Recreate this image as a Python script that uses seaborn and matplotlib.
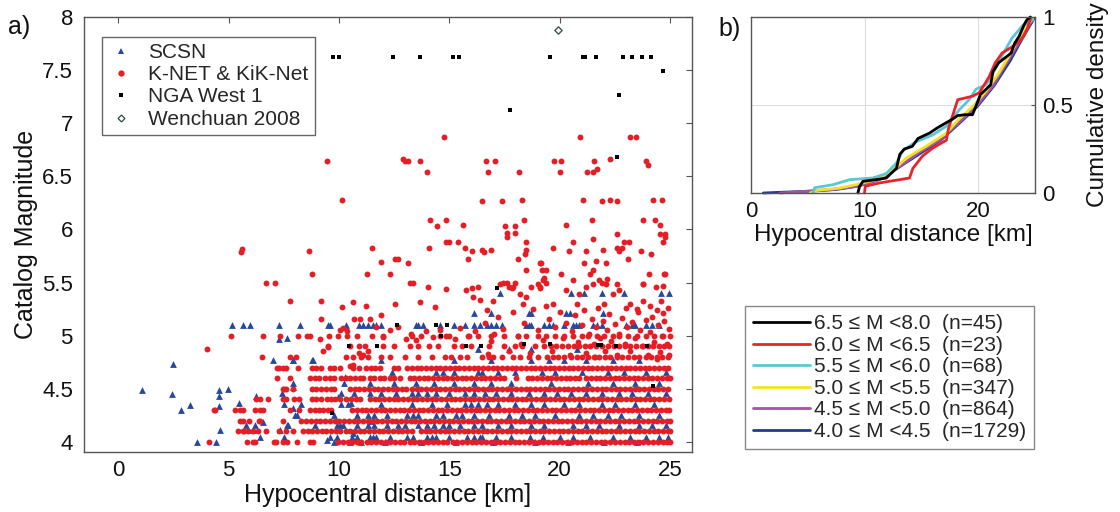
import matplotlib
matplotlib.use("Agg")
import matplotlib.pyplot as plt
import seaborn as sns
import pandas as pd
from matplotlib.lines import Line2D

# ---------------- Panel a data ----------------
# K-NET & KiK-Net: magnitude rows (0.1 steps) -> hypocentral distances [km]
knet_row_mags = [4.0, 4.1, 4.2, 4.3, 4.4, 4.5, 4.6, 4.7, 4.8, 4.9, 5.0]
knet_40 = [4.10, 5.85, 6.12, 6.18, 7.05, 7.15, 7.45, 7.63, 8.12, 8.69, 8.84, 9.97, 10.18, 10.4, 10.61, 10.83, 11.02,
           11.26, 11.47, 11.66, 11.9, 12.12, 12.31, 12.55, 12.77, 12.96, 13.2, 13.41, 13.62, 13.86, 14.05, 14.27, 14.5,
           14.71, 14.92, 15.16, 15.35, 15.58, 15.8, 16.01, 16.22, 16.46, 16.66, 16.87, 17.1, 17.31, 17.52, 17.76,
           17.96, 18.18, 18.41, 18.6, 18.83, 19.05, 19.26, 19.47, 19.7, 19.9, 20.12, 20.35, 20.55, 20.78, 21.0, 21.21,
           21.42, 21.66, 21.86, 22.07, 22.3, 22.51, 22.72, 22.95, 23.16, 23.37, 23.6, 23.8, 24.02, 24.25, 24.45, 24.67,
           24.88, 25.0]
knet_41 = [5.44, 5.67, 5.72, 5.9, 6.13, 6.35, 6.7, 7.3, 7.6, 7.92, 8.37, 8.58, 8.8, 9.0, 9.22, 9.43, 9.65, 9.86, 10.07,
           10.3, 10.5, 10.72, 10.94, 11.15, 11.37, 11.58, 11.8, 12.01, 12.23, 12.45, 12.66, 12.87, 13.1, 13.3, 13.72,
           13.93, 14.15, 14.36, 14.58, 14.8, 15.01, 15.22, 15.44, 15.66, 15.87, 16.08, 16.3, 16.52, 16.73, 16.95,
           17.16, 17.38, 17.6, 17.81, 18.02, 18.24, 18.46, 18.67, 18.88, 19.1, 19.31, 19.53, 19.75, 19.96, 20.17,
           20.39, 20.6, 20.82, 21.03, 21.25, 21.46, 21.68, 21.9, 22.11, 22.32, 22.54, 22.76, 22.97, 23.18, 23.4,
           23.62, 23.83, 24.04, 24.26, 24.48, 24.69, 24.9, 25.0]
knet_42 = [5.5, 5.67, 5.92, 6.37, 6.44, 7.48, 8.3, 8.52, 8.73, 8.95, 9.16, 9.38, 9.6, 9.81, 10.02, 10.24, 10.46, 10.67,
           10.88, 11.1, 11.32, 11.53, 11.74, 11.96, 12.18, 12.39, 12.6, 12.82, 13.04, 13.25, 13.46, 13.68, 13.9, 14.11,
           14.32, 14.54, 14.76, 14.97, 15.18, 15.4, 15.62, 15.83, 16.04, 16.26, 16.48, 16.69, 16.9, 17.12, 17.34,
           17.55, 17.76, 17.98, 18.2, 18.41, 18.62, 18.84, 19.06, 19.27, 19.48, 19.7, 19.92, 20.13, 20.34, 20.56,
           20.78, 20.99, 21.2, 21.42, 21.64, 21.85, 22.06, 22.28, 22.5, 22.71, 22.92, 23.14, 23.36, 23.57, 23.78,
           24.0, 24.22, 24.43, 24.64, 24.86, 25.0]
knet_43 = [4.36, 4.4, 5.3, 5.52, 5.66, 6.2, 6.44, 6.55, 7.8, 8.2, 8.7, 8.9, 9.1, 9.3, 9.5, 9.62, 10.6, 10.82, 11.03,
           11.25, 11.46, 11.68, 11.9, 12.11, 12.32, 12.54, 12.76, 12.97, 13.18, 13.4, 13.62, 13.83, 14.04, 14.26,
           14.48, 14.69, 14.9, 15.12, 15.34, 15.55, 15.76, 15.98, 16.2, 16.41, 16.62, 16.84, 17.06, 17.27, 17.48,
           17.7, 17.92, 18.13, 18.34, 18.56, 18.78, 18.99, 19.2, 19.42, 19.64, 19.85, 20.06, 20.28, 20.5, 20.71,
           20.92, 21.14, 21.36, 21.57, 21.78, 22.0, 22.22, 22.43, 22.64, 22.86, 23.08, 23.29, 23.5, 23.72, 23.94,
           24.15, 24.36, 24.58, 24.8, 24.98]
knet_44 = [6.24, 6.43, 6.77, 7.45, 7.62, 7.95, 8.2, 8.76, 8.95, 9.2, 9.45, 9.62, 9.82, 10.03, 10.3, 10.55, 10.76,
           10.97, 11.4, 11.62, 11.83, 12.04, 12.26, 12.48, 12.69, 12.9, 13.12, 13.34, 13.55, 13.76, 13.98, 14.2,
           14.41, 14.62, 14.84, 15.06, 15.27, 15.48, 15.7, 15.92, 16.13, 16.34, 16.56, 16.78, 16.99, 17.2, 17.42,
           17.64, 17.85, 18.06, 18.28, 18.5, 18.71, 18.92, 19.14, 19.36, 19.57, 19.78, 20.0, 20.22, 20.43, 20.64,
           20.86, 21.08, 21.29, 21.5, 21.72, 21.94, 22.15, 22.36, 22.58, 22.8, 23.01, 23.22, 23.44, 23.66, 23.87,
           24.08, 24.3, 24.52, 24.73, 24.94]
knet_45 = [7.45, 7.52, 7.62, 7.9, 8.76, 8.97, 9.2, 9.41, 9.62, 9.8, 10.5, 10.71, 10.92, 11.14, 11.36, 11.57, 11.78,
           12.0, 12.22, 12.43, 12.64, 12.86, 13.06, 13.3, 13.52, 13.74, 13.95, 14.16, 14.38, 14.6, 14.81, 15.02,
           15.24, 15.46, 15.67, 15.88, 16.1, 16.32, 16.53, 16.74, 16.96, 17.18, 17.39, 17.6, 17.82, 18.04, 18.25,
           18.46, 18.68, 18.9, 19.11, 19.32, 19.54, 19.76, 19.97, 20.18, 20.4, 20.62, 20.83, 21.04, 21.26, 21.48,
           21.69, 21.9, 22.12, 22.34, 22.55, 22.76, 22.98, 23.2, 23.41, 23.62, 23.84, 24.06, 24.27, 24.48, 24.7,
           24.92]
knet_46 = [7.21, 7.8, 8.7, 8.9, 9.1, 9.35, 9.6, 9.8, 10.1, 10.3, 10.5, 10.75, 10.95, 11.1, 11.4, 11.6, 11.85, 12.05,
           12.3, 12.5, 12.76, 13.2, 13.42, 13.63, 13.84, 14.06, 14.28, 14.49, 14.7, 14.92, 15.14, 15.35, 15.56,
           15.78, 16.0, 16.21, 16.42, 16.64, 16.86, 17.07, 17.28, 17.5, 18.02, 18.55, 18.76, 18.98, 19.2, 19.41,
           19.62, 19.84, 20.06, 20.27, 20.48, 20.7, 20.9, 21.2, 21.42, 21.63, 21.84, 22.06, 22.28, 22.49, 22.7,
           22.92, 23.14, 23.35, 23.56, 23.78, 24.0, 24.21, 24.42, 24.64, 24.86, 25.0]
knet_47 = [7.21, 7.3, 7.45, 7.6, 8.16, 8.76, 8.95, 9.2, 9.6, 9.8, 10.05, 10.65, 10.9, 11.25, 11.45, 11.65, 11.86,
           12.5, 12.7, 13.1, 13.32, 13.53, 13.74, 13.96, 14.18, 14.39, 14.6, 14.82, 15.04, 15.25, 15.46, 15.68, 15.9,
           16.11, 16.32, 16.54, 16.76, 16.97, 17.18, 17.4, 17.62, 17.83, 18.04, 18.26, 18.48, 18.69, 18.9, 19.12,
           19.34, 19.55, 19.76, 19.98, 20.2, 20.41, 20.62, 20.84, 21.06, 21.27, 21.48, 21.7, 21.92, 22.13, 22.34,
           22.56, 22.78, 22.99, 23.2, 23.42, 23.64, 23.85, 24.06, 24.28, 24.5, 24.71, 24.92]
knet_48 = [6.5, 7.8, 8.05, 10.34, 10.65, 11.0, 11.3, 11.9, 12.3, 13.0, 13.6, 14.2, 14.8, 15.1, 15.5, 15.8, 16.5, 16.8,
           17.0, 17.4, 17.9, 18.2, 18.6, 19.0, 19.45, 19.7, 19.95, 20.2, 20.5, 20.8, 21.0, 21.3, 21.55, 21.8, 22.05,
           22.3, 22.6, 22.85, 23.1, 23.35, 23.6, 23.9, 24.15, 24.4, 24.65, 24.9]
knet_49 = [9.52, 10.5, 10.9, 11.2, 12.0, 12.5, 13.2, 13.6, 14.1, 14.5, 15.2, 15.6, 16.0, 16.8, 17.5, 18.0, 18.3, 18.9,
           19.3, 19.6, 19.85, 20.1, 20.4, 20.65, 20.9, 21.15, 21.4, 21.65, 21.9, 22.2, 22.45, 22.7, 22.95, 23.2,
           23.45, 23.75, 24.0, 24.25, 24.5, 24.75, 24.98]
knet_50 = [5.11, 6.56, 7.34, 8.16, 8.54, 8.69, 9.55, 9.98, 10.37, 10.8, 11.5, 12.0, 13.3, 13.7, 14.6, 15.0, 15.9, 16.3,
           16.9, 17.5, 18.1, 18.5, 19.0, 19.4, 19.8, 20.2, 20.6, 21.0, 21.3, 21.7, 22.0, 22.4, 22.7, 23.1, 23.5, 23.9,
           24.3, 24.7, 25.0]
# K-NET & KiK-Net scattered points (distance km, magnitude)
knet_scatter_pts = [
    (10.35, 5.04), (10.7, 5.16), (10.95, 5.16), (11.4, 5.16), (11.7, 5.08), (12.0, 4.99), (12.3, 5.05), (12.68, 5.08),
    (13.06, 4.97), (13.28, 5.02), (13.5, 4.96), (13.96, 5.04), (14.26, 4.99), (14.57, 5.05), (14.87, 5.0),
    (15.25, 4.97), (15.48, 5.07), (15.85, 5.0), (16.15, 5.04), (10.65, 5.32), (11.25, 5.28), (11.93, 5.19),
    (12.53, 5.30), (13.66, 5.32), (14.04, 5.46), (14.34, 5.27), (14.87, 5.44), (15.78, 5.43), (16.07, 5.36),
    (16.4, 5.34), (16.7, 5.24), (17.0, 5.33), (17.3, 5.49), (17.6, 5.5), (17.9, 5.46), (18.2, 5.39), (18.35, 5.30),
    (18.5, 5.36), (19.1, 5.68), (19.23, 5.52), (19.1, 5.46), (19.7, 5.30), (20.3, 5.43), (20.6, 5.52), (20.9, 5.39),
    (21.2, 5.46), (21.5, 5.49), (21.8, 5.52), (22.1, 5.49), (22.4, 5.39), (22.7, 5.43), (23.2, 5.30), (23.5, 5.25),
    (23.8, 5.33), (24.1, 5.28), (24.4, 5.24), (24.7, 5.21), (23.8, 5.49), (24.75, 5.58),
    (16.6, 5.12), (16.9, 4.95), (17.2, 5.18), (17.45, 5.06), (17.7, 4.86), (17.9, 5.22), (18.1, 5.0), (18.4, 5.12),
    (18.65, 4.84), (18.8, 5.25), (19.0, 5.05), (19.25, 4.96), (19.5, 5.16), (19.65, 4.86), (19.8, 5.08),
    (20.0, 5.22), (20.15, 4.98), (20.3, 5.12), (20.45, 4.82), (20.55, 5.04), (20.7, 5.19), (20.85, 4.94),
    (21.0, 5.1), (21.1, 5.24), (21.2, 4.84), (21.35, 5.02), (21.45, 5.16), (21.55, 4.92), (21.65, 5.08),
    (21.75, 5.26), (21.85, 4.98), (21.95, 5.14), (22.05, 4.86), (22.15, 5.05), (22.25, 5.2), (22.35, 4.95),
    (22.5, 5.11), (22.6, 4.82), (22.7, 5.02), (22.85, 5.17), (22.95, 4.92), (23.05, 5.08), (23.2, 4.86),
    (23.3, 5.13), (23.4, 4.98), (23.55, 5.22), (23.65, 5.05), (23.8, 4.9), (23.9, 5.15), (24.0, 4.82),
    (24.1, 5.03), (24.2, 5.18), (24.3, 4.94), (24.45, 5.1), (24.55, 4.85), (24.65, 5.0), (24.75, 5.14),
    (24.85, 4.92), (24.95, 5.06), (24.9, 5.26), (16.75, 4.83), (17.05, 5.02), (18.25, 4.92), (19.4, 5.28),
    (20.8, 5.3), (22.0, 5.3), (24.6, 5.33), (23.0, 5.26), (21.6, 4.8), (24.4, 4.78), (24.95, 4.82),
    (5.62, 5.82), (5.58, 5.79), (4.03, 4.87), (7.09, 5.5), (6.68, 5.5), (7.8, 5.33), (9.17, 5.33), (9.21, 5.16),
    (10.15, 5.27), (10.05, 5.05), (10.2, 5.07), (9.14, 4.97), (9.52, 4.89), (9.29, 4.86), (10.9, 4.84),
    (11.1, 4.82), (11.3, 4.86), (10.65, 4.72), (10.5, 4.71),
    (9.44, 6.64), (10.15, 6.28), (12.9, 6.66), (13.0, 6.64), (13.15, 6.64), (13.68, 6.64), (14.0, 6.54),
    (14.78, 6.87), (16.68, 6.64), (16.75, 6.54), (16.5, 6.27), (8.66, 5.80), (8.78, 5.58), (11.52, 5.83),
    (11.27, 5.58), (11.92, 5.69), (12.52, 5.72), (12.70, 5.72), (13.15, 5.68), (12.3, 5.58), (13.2, 5.50),
    (13.36, 5.50), (14.07, 5.83), (14.15, 6.09), (14.46, 6.03), (14.85, 6.09), (14.84, 5.88), (15.0, 5.88),
    (15.38, 5.88), (15.63, 6.04), (15.72, 5.83), (16.03, 5.80), (16.49, 5.81), (16.56, 5.79), (15.84, 5.72),
    (16.03, 5.45), (16.29, 5.46), (20.92, 6.87), (23.2, 6.87), (23.45, 6.87), (17.06, 6.64), (18.17, 6.54),
    (19.74, 6.64), (20.07, 6.64), (20.0, 6.54), (21.57, 6.64), (21.23, 6.54), (21.5, 6.54), (21.7, 6.57),
    (22.28, 6.66), (23.92, 6.64), (23.99, 6.61), (17.39, 6.27), (18.31, 6.28), (21.05, 6.28), (21.9, 6.27),
    (22.3, 6.28), (22.62, 6.27), (24.24, 6.28), (24.63, 6.28), (18.37, 6.09), (17.53, 6.03), (18.0, 6.03),
    (17.6, 5.97), (17.6, 5.93), (18.0, 5.97), (20.27, 6.04), (21.45, 6.09), (23.78, 6.09), (24.31, 6.09),
    (24.57, 6.04), (24.57, 5.96), (24.77, 5.96), (24.77, 5.93), (24.7, 5.88), (22.62, 5.96), (21.5, 5.91),
    (20.6, 5.88), (18.5, 5.88), (22.94, 5.88), (23.15, 5.88), (16.88, 5.81), (18.5, 5.81), (18.44, 5.77),
    (19.68, 5.83), (20.41, 5.80), (21.19, 5.80), (21.98, 5.81), (22.62, 5.83), (22.7, 5.80), (22.84, 5.83),
    (23.67, 5.80), (24.12, 5.77), (18.11, 5.72), (21.64, 5.70), (23.08, 5.72), (18.5, 5.62), (19.16, 5.68),
    (19.2, 5.62), (19.4, 5.62), (21.12, 5.68), (21.52, 5.62), (22.1, 5.68), (20.06, 5.58), (21.37, 5.58),
    (24.06, 5.58), (24.76, 5.58), (19.28, 5.54), (19.39, 5.50), (17.45, 5.50), (17.98, 5.50), (19.0, 5.49),
    (22.17, 5.53), (21.92, 5.50), (22.62, 5.49), (23.78, 5.49), (24.37, 5.46), (24.7, 5.47), (17.72, 5.46),
    (17.84, 5.45), (18.71, 5.46), (19.1, 5.45)]

# SCSN: magnitude levels -> distances, plus scattered points
scsn_level_mags = [4.0, 4.05, 4.16, 4.25, 4.36, 4.46, 4.55, 4.66, 4.77, 4.87, 5.10, 5.21, 5.40]
scsn_400 = [9.8, 10.5, 11.0, 12.1, 13.7, 15.3, 17.0, 18.9, 20.4, 22.0, 23.5]
scsn_405 = [7.5, 9.6, 9.9, 10.6, 10.8, 11.4, 11.55, 11.7, 12.3, 13.1, 13.35, 14.0, 14.2, 14.4, 15.0, 15.8, 16.1,
            16.4, 16.5, 17.1, 17.8, 18.65, 19.25, 20.0, 20.6, 21.36, 22.4, 23.17, 23.9, 24.5, 24.9]
scsn_416 = [7.7, 8.9, 9.9, 10.05, 10.2, 10.8, 11.3, 11.6, 12.2, 12.7, 13.0, 13.6, 14.0, 14.3, 14.7, 15.0, 15.5, 16.1,
            16.5, 17.2, 17.8, 18.7, 19.3, 20.6, 21.2, 21.8, 22.7, 23.6, 24.2, 24.8]
scsn_425 = [8.0, 9.8, 10.8, 11.3, 11.6, 12.2, 13.1, 13.35, 13.6, 14.4, 14.7, 15.3, 15.6, 16.1, 16.8, 17.7, 18.3,
            18.9, 19.8, 20.9, 21.5, 22.2, 22.8, 23.6, 24.5]
scsn_436 = [7.5, 8.3, 10.1, 10.4, 11.9, 13.3, 14.2, 14.9, 15.7, 16.0, 16.3, 16.7, 17.2, 18.0, 18.7, 19.3, 20.2, 20.9,
            21.9, 22.5, 23.4, 24.3]
scsn_446 = [7.4, 10.1, 10.7, 11.4, 11.9, 12.6, 13.3, 13.6, 14.0, 14.4, 15.0, 15.7, 16.1, 16.6, 17.1, 17.8, 18.6,
            19.3, 19.9, 20.5, 21.2, 21.9, 22.7, 23.3, 24.0, 24.8]
scsn_455 = [7.9, 10.25, 11.4, 12.5, 13.5, 14.3, 15.2, 16.1, 16.9, 17.8, 19.6, 21.3, 22.4, 23.4, 24.5]
scsn_466 = [12.4, 14.4, 14.7, 15.2, 16.3, 16.5, 17.2, 18.0, 19.2, 19.8, 21.0, 22.2, 22.9, 23.9, 24.8]
scsn_477 = [7.9, 8.8, 11.9, 15.2, 16.9, 18.7, 19.5, 20.2, 21.2, 22.4, 23.6]
scsn_487 = [16.3, 17.7, 18.7, 20.8]
scsn_510 = [5.17, 5.67, 5.97, 7.3, 8.24, 9.5, 9.6, 10.3, 10.9, 11.1, 11.3, 11.55, 11.7, 11.93, 13.5, 13.6, 13.8,
            14.57, 15.2, 15.7, 16.1, 16.4, 16.7, 16.9, 17.1, 17.4, 18.5, 18.6, 18.7, 19.3, 19.5, 19.7, 20.2, 20.6,
            20.75, 20.9, 21.5, 21.7, 21.9, 23.0, 23.3, 23.4, 23.9, 24.2, 24.5]
scsn_521 = [16.1, 16.9, 18.6, 18.7, 20.3, 20.45, 21.96]
scsn_540 = [17.3, 20.5, 21.1, 21.9, 22.9, 24.6, 24.98]
scsn_sparse_dist = [1.1, 2.5, 2.46, 2.85, 3.24, 3.56, 4.42, 4.55, 4.55, 4.55, 4.62, 4.99, 7.28, 7.03, 5.46, 5.81,
                    6.18, 6.23, 6.56, 6.12, 6.43, 7.34, 7.63, 7.93, 8.83, 7.93, 10.27, 7.63, 7.93, 8.08, 9.44, 9.97,
                    10.57, 10.65, 11.4]
scsn_sparse_mag = [4.49, 4.73, 4.45, 4.30, 4.35, 4.0, 4.0, 4.49, 4.43, 4.34, 4.11, 4.5, 4.97, 4.77, 4.37, 4.16,
                   4.16, 4.43, 4.19, 4.11, 4.05, 4.11, 4.98, 4.77, 4.77, 4.52, 4.61, 4.16, 4.32, 4.25, 4.02, 4.42,
                   4.37, 4.08, 4.2]

# NGA West 1
nga_dist = [9.74, 10.01, 12.44, 13.68, 15.17, 15.43, 19.55, 21.07, 21.16, 21.64, 22.88, 23.27, 23.72, 24.12,
            24.7, 22.68, 17.74, 22.62, 17.16, 12.65, 14.4, 14.88, 14.63, 10.48, 11.72, 15.78, 16.43, 18.39, 19.55,
            21.76, 21.87, 22.55, 23.95, 9.7, 24.24]
nga_mag = [7.62, 7.62, 7.62, 7.62, 7.62, 7.62, 7.62, 7.62, 7.62, 7.62, 7.62, 7.62, 7.62, 7.62,
           7.49, 7.27, 7.12, 6.68, 5.45, 5.1, 5.1, 5.1, 5.0, 4.9, 4.9, 4.9, 4.9, 4.92, 4.92,
           4.91, 4.91, 4.9, 4.9, 4.27, 4.53]
# Wenchuan 2008
wen_dist = [19.94]
wen_mag = [7.88]

# ---------------- Panel b data (cumulative density curves) ----------------
cdf_labels = ["6.5 \u2264 M <8.0  (n=45)", "6.0 \u2264 M <6.5  (n=23)", "5.5 \u2264 M <6.0  (n=68)",
              "5.0 \u2264 M <5.5  (n=347)", "4.5 \u2264 M <5.0  (n=864)", "4.0 \u2264 M <4.5  (n=1729)"]
black_x = [9.41, 9.56, 9.85, 11.0, 11.9, 12.8, 13.1, 13.5, 14.2, 14.7, 15.7, 16.4, 17.2, 17.75, 18.2, 18.9, 19.5,
           19.9, 20.2, 20.7, 21.1, 21.3, 21.8, 22.4, 22.9, 23.2, 23.6, 24.04, 24.3, 24.6]
black_y = [0, 0.038, 0.066, 0.076, 0.085, 0.14, 0.22, 0.25, 0.265, 0.31, 0.34, 0.37, 0.40, 0.42, 0.44, 0.445, 0.445,
           0.51, 0.56, 0.59, 0.615, 0.69, 0.74, 0.77, 0.795, 0.85, 0.89, 0.956, 0.985, 1.0]
red_x = [9.99, 10.06, 11.3, 13.95, 14.25, 15.1, 15.99, 17.2, 17.4, 18.2, 19.5, 20.1, 20.96, 21.5, 22.1, 22.97, 23.6,
         24.0, 24.3, 24.6]
red_y = [0, 0.038, 0.057, 0.085, 0.14, 0.21, 0.255, 0.30, 0.37, 0.53, 0.55, 0.57, 0.66, 0.74, 0.795, 0.83, 0.86,
         0.89, 0.93, 0.99]
cyan_x = [5.47, 5.6, 7.2, 8.7, 10.7, 11.9, 12.8, 13.36, 14.5, 15.99, 17.2, 18.3, 19.2, 19.8, 20.7, 21.3, 22.1, 22.97,
          23.9, 24.8]
cyan_y = [0, 0.03, 0.047, 0.076, 0.085, 0.11, 0.17, 0.24, 0.29, 0.33, 0.38, 0.47, 0.53, 0.59, 0.615, 0.68, 0.78,
          0.88, 0.95, 0.985]
yellow_x = [5.2, 5.8, 7.8, 9.6, 11.0, 12.5, 13.7, 15.4, 17.2, 18.3, 19.5, 20.7, 21.8, 23.0, 24.0, 24.8]
yellow_y = [0, 0.015, 0.028, 0.053, 0.076, 0.13, 0.2, 0.265, 0.34, 0.42, 0.49, 0.58, 0.68, 0.81, 0.93, 0.99]
magenta_x = [2.55, 4.9, 7.2, 9.3, 11.3, 13.07, 14.8, 16.6, 18.3, 19.8, 21.3, 22.7, 23.9, 24.8]
magenta_y = [0, 0.01, 0.02, 0.038, 0.076, 0.15, 0.23, 0.30, 0.40, 0.49, 0.61, 0.76, 0.89, 0.99]
blue_x = [1.08, 2.55, 5.2, 7.5, 9.5, 11.4, 13.1, 14.9, 16.7, 18.4, 19.9, 21.4, 22.8, 23.9, 24.9]
blue_y = [0, 0.004, 0.01, 0.02, 0.04, 0.08, 0.15, 0.225, 0.30, 0.40, 0.49, 0.61, 0.75, 0.88, 0.99]

xticks_a = [0, 5, 10, 15, 20, 25]
yticks_a = [4, 4.5, 5, 5.5, 6, 6.5, 7, 7.5, 8]
ytick_labels_a = ["4", "4.5", "5", "5.5", "6", "6.5", "7", "7.5", "8"]
xticks_b = [0, 10, 20]
yticks_b = [0, 0.5, 1]
ytick_labels_b = ["0", "0.5", "1"]

# ---------------- build tables ----------------
knet_rows = [knet_40, knet_41, knet_42, knet_43, knet_44, knet_45, knet_46, knet_47, knet_48, knet_49, knet_50]
knet_d = [d for row in knet_rows for d in row] + [p[0] for p in knet_scatter_pts]
knet_m = [m for m, row in zip(knet_row_mags, knet_rows) for _ in row] + [p[1] for p in knet_scatter_pts]
df_knet = pd.DataFrame({"dist": knet_d, "mag": knet_m})

scsn_rows = [scsn_400, scsn_405, scsn_416, scsn_425, scsn_436, scsn_446, scsn_455, scsn_466, scsn_477, scsn_487,
             scsn_510, scsn_521, scsn_540]
scsn_d = [d for row in scsn_rows for d in row] + scsn_sparse_dist
scsn_m = [m for m, row in zip(scsn_level_mags, scsn_rows) for _ in row] + scsn_sparse_mag
df_scsn = pd.DataFrame({"dist": scsn_d, "mag": scsn_m})
df_nga = pd.DataFrame({"dist": nga_dist, "mag": nga_mag})
df_wen = pd.DataFrame({"dist": wen_dist, "mag": wen_mag})

# ---------------- style ----------------
sns.set_theme(style="white")
plt.rcParams["font.family"] = ["Liberation Sans", "DejaVu Sans"]
plt.rcParams["axes.edgecolor"] = "#555555"
plt.rcParams["axes.linewidth"] = 1.0

col_scsn = "#26489e"
col_knet = "#e41e24"

fig = plt.figure(figsize=(11.2, 5.12), dpi=100)
ax = fig.add_axes([84 / 1120, 60 / 512, 608 / 1120, 435 / 512])
axb = fig.add_axes([751 / 1120, 319 / 512, 284 / 1120, 176 / 512])

# ---- panel a ----
sns.scatterplot(data=df_scsn, x="dist", y="mag", marker="^", s=24, color=col_scsn, linewidth=0, ax=ax, legend=False)
sns.scatterplot(data=df_knet, x="dist", y="mag", marker="o", s=18, color=col_knet, linewidth=0, ax=ax, legend=False)
sns.scatterplot(data=df_nga, x="dist", y="mag", marker="s", s=12, color="black", linewidth=0, ax=ax, legend=False)
sns.scatterplot(data=df_wen, x="dist", y="mag", marker="D", s=14, color="white", edgecolor="#2e4a3a",
                linewidth=0.9, ax=ax, legend=False)

ax.set_xlim(-1.55, 26.0)
ax.set_ylim(3.905, 8.0)
ax.set_xticks(xticks_a)
ax.set_yticks(yticks_a)
ax.set_yticklabels(ytick_labels_a)
ax.tick_params(direction="in", top=True, right=True, length=4, width=0.8, color="#555555",
               labelsize=16, labelcolor="#111111")
ax.tick_params(axis="x", pad=6)
ax.tick_params(axis="y", pad=8)
ax.set_xlabel("Hypocentral distance [km]", fontsize=18, labelpad=1, color="#111111")
ax.set_ylabel("Catalog Magnitude", fontsize=18, labelpad=3, color="#111111")

leg_handles = [
    Line2D([], [], marker="^", linestyle="none", color=col_scsn, markersize=5, markeredgewidth=0),
    Line2D([], [], marker="o", linestyle="none", color=col_knet, markersize=4.5, markeredgewidth=0),
    Line2D([], [], marker="s", linestyle="none", color="black", markersize=3.5, markeredgewidth=0),
    Line2D([], [], marker="D", linestyle="none", markerfacecolor="white", markeredgecolor="#2e4a3a",
           markersize=3.5, markeredgewidth=0.9),
]
leg_a = ax.legend(leg_handles, ["SCSN", "K-NET & KiK-Net", "NGA West 1", "Wenchuan 2008"],
                  loc="upper left", bbox_to_anchor=(0.03, 0.955), borderaxespad=0, fontsize=15,
                  frameon=True, fancybox=False, framealpha=1, edgecolor="#666666", labelspacing=0.16,
                  handletextpad=0.7, handlelength=1.2, borderpad=0.3)
leg_a.get_frame().set_linewidth(1.0)

# ---- panel b ----
cdf_x = [black_x, red_x, cyan_x, yellow_x, magenta_x, blue_x]
cdf_y = [black_y, red_y, cyan_y, yellow_y, magenta_y, blue_y]
cdf_colors = ["#000000", "#e8242a", "#5cc6d6", "#f3e31c", "#a652a6", "#1f3d91"]
for xs, ys, c, lab in reversed(list(zip(cdf_x, cdf_y, cdf_colors, cdf_labels))):
    sns.lineplot(x=xs, y=ys, sort=False, estimator=None, color=c, linewidth=2.0, ax=axb, label=lab,
                 clip_on=False, legend=False)

axb.set_xlim(0, 25)
axb.set_ylim(0, 1)
axb.set_xticks(xticks_b)
axb.set_yticks(yticks_b)
axb.set_yticklabels(ytick_labels_b)
axb.grid(True, color="#dddddd", linewidth=0.8)
axb.set_axisbelow(True)
axb.yaxis.tick_right()
axb.yaxis.set_label_position("right")
axb.tick_params(direction="in", length=3, width=0.8, color="#555555", labelsize=16, labelcolor="#111111")
axb.tick_params(axis="x", pad=6)
axb.tick_params(axis="y", pad=5)
axb.set_xlabel("Hypocentral distance [km]", fontsize=17.5, labelpad=1, color="#111111")
axb.set_ylabel("Cumulative density", fontsize=17.5, labelpad=10, color="#111111")

leg_lines = [Line2D([], [], color=c, linewidth=2.0) for c in cdf_colors]
leg_b = fig.legend(leg_lines, cdf_labels, loc="upper left", bbox_to_anchor=(745 / 1120, 1 - 306 / 512),
                   bbox_transform=fig.transFigure, borderaxespad=0, fontsize=15, frameon=True, fancybox=False,
                   framealpha=1, edgecolor="#888888", labelspacing=0.12, handlelength=2.7, handletextpad=0.2,
                   borderpad=0.4)
leg_b.get_frame().set_linewidth(1.0)

fig.text(8 / 1120, 1 - 27 / 512, "a)", fontsize=18, va="center", ha="left", color="#111111")
fig.text(718 / 1120, 1 - 29 / 512, "b)", fontsize=18, va="center", ha="left", color="#111111")

fig.savefig("out.png", dpi=100)
